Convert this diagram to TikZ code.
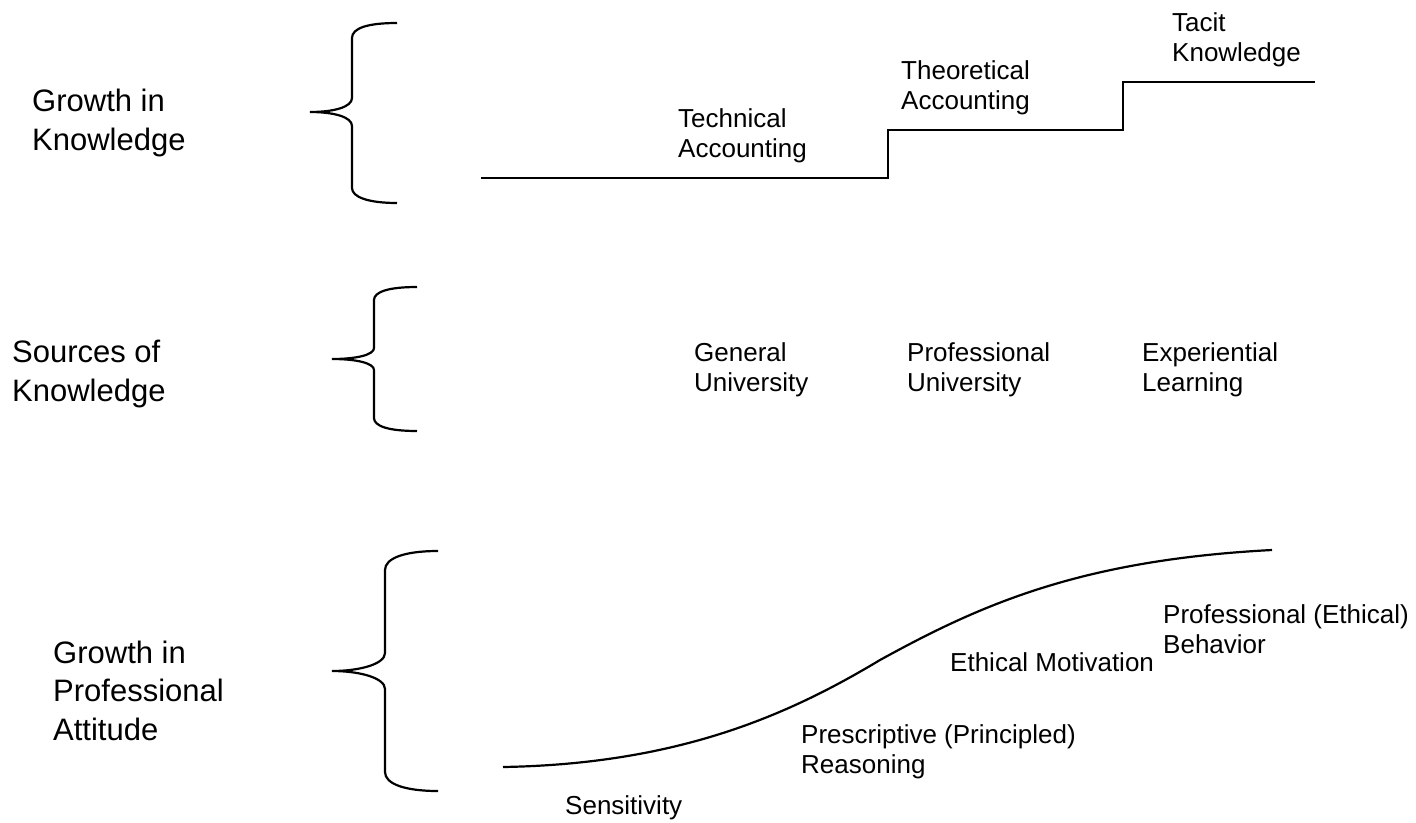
\documentclass[tikz,border=0pt]{standalone}
\usepackage{fontspec}
\setmainfont{Liberation Sans}
\begin{document}
\begin{tikzpicture}[x=1pt,y=-1pt,
  big/.style={font=\fontsize{31}{38.5}\selectfont, align=left, inner sep=0pt, anchor=base west},
  small/.style={font=\fontsize{26}{30}\selectfont, align=left, inner sep=0pt, anchor=base west},
  ln/.style={line width=2.2pt, line cap=butt, line join=miter},
  br/.style={line width=2.2pt}]
\useasboundingbox (0,0) rectangle (1416,822);

% left labels (anchor = baseline of last line)
\node[big] (gk) at (32,150) {Growth in\\Knowledge};
\node[big] (sk) at (12,401) {Sources of\\Knowledge};
\node[big] (gp) at (53,740) {Growth in\\Professional\\Attitude};

% braces
\draw[br] (397,23) .. controls (368,23) and (352,28) .. (352,38) -- (352,98)
  .. controls (352,107) and (334,112) .. (310,112)
  .. controls (334,112) and (352,117) .. (352,126) -- (352,188)
  .. controls (352,197) and (368,203) .. (397,203);
\draw[br] (417,287) .. controls (388,287) and (374,292) .. (374,300) -- (374,348)
  .. controls (374,355) and (356,359) .. (332,359)
  .. controls (356,359) and (374,363) .. (374,370) -- (374,418)
  .. controls (374,426) and (388,431) .. (417,431);
\draw[br] (438,551) .. controls (405,551) and (385,558) .. (385,570) -- (385,653)
  .. controls (385,664) and (360,671) .. (332,671)
  .. controls (360,671) and (385,678) .. (385,689) -- (385,772)
  .. controls (385,784) and (405,791) .. (438,791);

% steps
\coordinate (s0) at (481,178);
\coordinate (s1) at (888,178);
\coordinate (s2) at (888,130);
\coordinate (s3) at (1123,130);
\coordinate (s4) at (1123,82);
\coordinate (s5) at (1315,82);
\draw[ln] (s0) -- (s1) -- (s2) -- (s3) -- (s4) -- (s5);

\node[small] (ta) at (678,157) {Technical\\Accounting};
\node[small] (th) at (901,109) {Theoretical\\Accounting};
\node[small] (tk) at (1172,61) {Tacit\\Knowledge};

% sources
\node[small] (gu) at (694,391) {General\\University};
\node[small] (pu) at (907,391) {Professional\\University};
\node[small] (el) at (1142,391) {Experiential\\Learning};

% S curve
\coordinate (c0) at (503,767);
\coordinate (c1) at (880,660);
\coordinate (c2) at (1272,550);
\draw[ln] (c0) .. controls (680,764) and (790,714) .. (c1)
  .. controls (980,605) and (1080,560) .. (c2);

\node[small] (se) at (565,814) {Sensitivity};
\node[small] (pr) at (801,773) {Prescriptive (Principled)\\Reasoning};
\node[small] (em) at (950,671) {Ethical Motivation};
\node[small] (pe) at (1163,653) {Professional (Ethical)\\Behavior};
\end{tikzpicture}
\end{document}
